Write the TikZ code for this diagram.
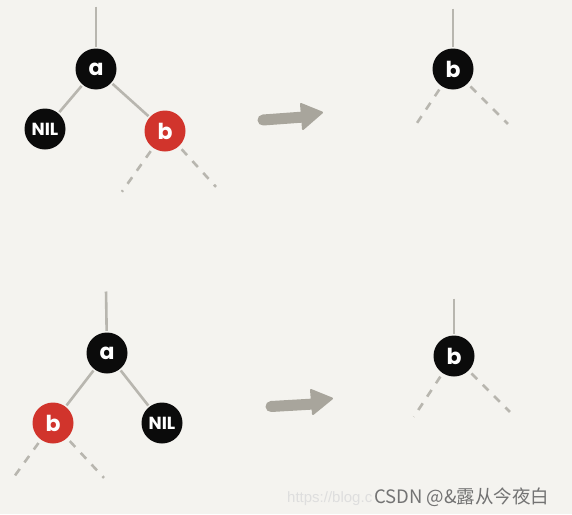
\documentclass[tikz,border=0pt]{standalone}
\usepackage{fontspec}
\newfontfamily\nodefont{Poppins}
\newfontfamily\cjk{Noto Sans CJK SC}
\newfontfamily\wmfont{Liberation Sans}
\definecolor{bgc}{HTML}{F4F3EF}
\definecolor{edgec}{HTML}{B8B6AF}
\definecolor{arrc}{HTML}{A8A59C}
\definecolor{redn}{HTML}{D1342C}
\definecolor{blackn}{HTML}{0B0B0B}
\tikzset{
  rbnode/.style={circle, minimum size=41pt, inner sep=0pt, text=white, font=\nodefont\fontsize{22}{22}\selectfont\bfseries},
  blk/.style={rbnode, fill=blackn},
  rd/.style={rbnode, fill=redn},
  nil/.style={rbnode, fill=blackn, font=\nodefont\fontsize{17.5}{17.5}\selectfont\bfseries},
  edge/.style={draw=edgec, line width=2.6pt, shorten <=1.5pt, shorten >=1.5pt},
  dashedge/.style={edge, dash pattern=on 8pt off 8pt, shorten <=4pt},
  shaft/.style={draw=arrc, line width=11pt, line cap=round},
  arrhead/.style={fill=arrc, draw=arrc, line width=2pt, line join=round}
}
\begin{document}
\begin{tikzpicture}[x=1pt,y=-1pt]
\fill[bgc] (0,0) rectangle (572,514);
\useasboundingbox (0,0) rectangle (572,514);

% ---- top left tree
\node[blk] (a1) at (96,69) {a};
\node[nil] (nil1) at (45,129) {NIL};
\node[rd] (b1) at (165,131) {b};
\coordinate (t1) at (96,5);
\coordinate (b1l) at (121,193);
\coordinate (b1r) at (217,188);
\draw[edge] (t1) -- (a1);
\draw[edge] (a1) -- (nil1);
\draw[edge] (a1) -- (b1);
\draw[dashedge] (b1) -- (b1l);
\draw[dashedge] (b1) -- (b1r);

% ---- top arrow
\coordinate (ar1s) at (263,120);
\coordinate (ar1e) at (304,117);
\coordinate (h1a) at (301,104);
\coordinate (h1b) at (322,112.5);
\coordinate (h1c) at (303,129);
\draw[shaft] (ar1s) -- (ar1e);
\filldraw[arrhead] (h1a) -- (h1b) -- (h1c) -- cycle;

% ---- top right
\node[blk] (b2) at (453,69) {b};
\coordinate (t2) at (453,7);
\coordinate (b2l) at (413,129);
\coordinate (b2r) at (509,125);
\draw[edge] (t2) -- (b2);
\draw[dashedge] (b2) -- (b2l);
\draw[dashedge] (b2) -- (b2r);

% ---- bottom left tree
\node[blk] (a3) at (107,353) {a};
\node[rd] (b3) at (53,423) {b};
\node[nil] (nil3) at (162,423) {NIL};
\coordinate (t3) at (106,290);
\coordinate (b3l) at (11,481);
\coordinate (b3r) at (105,479);
\draw[edge] (t3) -- (a3);
\draw[edge] (a3) -- (b3);
\draw[edge] (a3) -- (nil3);
\draw[dashedge] (b3) -- (b3l);
\draw[dashedge] (b3) -- (b3r);

% ---- bottom arrow
\coordinate (ar2s) at (271,406.5);
\coordinate (ar2e) at (314,404);
\coordinate (h2a) at (311,390);
\coordinate (h2b) at (332,398.5);
\coordinate (h2c) at (313,414);
\draw[shaft] (ar2s) -- (ar2e);
\filldraw[arrhead] (h2a) -- (h2b) -- (h2c) -- cycle;

% ---- bottom right
\node[blk] (b4) at (454,356) {b};
\coordinate (t4) at (454,297);
\coordinate (b4l) at (413,418);
\coordinate (b4r) at (511,413);
\draw[edge] (t4) -- (b4);
\draw[dashedge] (b4) -- (b4l);
\draw[dashedge] (b4) -- (b4r);

% ---- watermark
\node[anchor=base west, text=black!13, font=\wmfont\fontsize{15}{15}\selectfont, inner sep=0pt] (url) at (287,502) {https://blog.c};
\node[anchor=base west, text=black!55, font=\cjk\fontsize{18.5}{18.5}\selectfont, inner sep=0pt] (wm) at (374,503) {CSDN @\&露从今夜白};
\end{tikzpicture}
\end{document}
